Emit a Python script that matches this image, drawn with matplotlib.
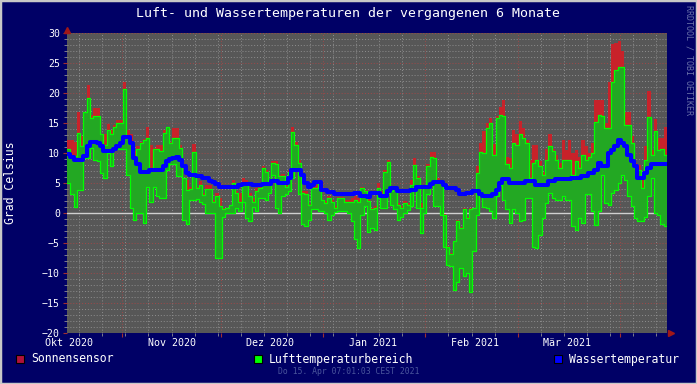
import numpy as np
import pandas as pd
import matplotlib
matplotlib.use('Agg')
import matplotlib.pyplot as plt
from matplotlib.patches import Rectangle

plt.rcParams['font.family'] = ['DejaVu Sans Mono', 'DejaVu Sans']

# daily values, 15. Okt 2020 .. 15. Apr 2021
tmax = [10.6, 9.5, 9.5, 13.3, 11.1, 16.8, 19.2, 15.8, 16.1, 16.1,
        13.1, 11.4, 13.9, 13.1, 14.4, 15.0, 15.0, 20.7, 12.5, 11.7,
        9.4, 10.6, 11.7, 12.2, 12.5, 7.5, 10.6, 10.6, 10.3, 13.3,
        14.3, 11.7, 12.5, 12.5, 10.8, 5.8, 3.9, 4.0, 10.2, 4.2,
        4.7, 3.0, 4.0, 4.0, 1.9, 2.8, 1.1, 0.6, 0.8, 1.4,
        5.0, 3.3, 1.9, 5.0, 4.7, 2.8, 1.9, 3.6, 4.2, 7.5,
        6.9, 5.3, 8.3, 8.1, 6.1, 6.1, 4.3, 6.9, 13.5, 11.3,
        8.3, 3.3, 3.1, 1.4, 4.2, 4.2, 5.3, 2.1, 1.7, 2.5,
        1.9, 0.9, 2.5, 2.5, 1.9, 1.9, 1.9, 2.2, 1.9, 4.2,
        3.6, 2.0, 0.6, 0.8, 4.2, 3.1, 6.9, 8.5, 3.6, 4.2,
        1.4, 0.8, 1.7, 1.4, 4.7, 8.0, 5.8, 0.8, 4.2, 7.8,
        9.4, 9.2, 5.3, 5.3, -0.3, -5.6, -6.8, -4.7, -1.4, -2.5,
        0.6, -0.8, 0.6, 0.8, 6.7, 10.2, 10.0, 14.2, 15.0, 9.7,
        15.8, 16.4, 16.1, 8.1, 7.5, 11.7, 11.4, 13.1, 12.5, 11.7,
        5.8, 8.3, 8.9, 7.8, 6.4, 8.9, 11.1, 10.3, 8.9, 7.5,
        8.9, 8.9, 8.9, 6.4, 8.6, 7.5, 9.7, 8.9, 9.4, 10.0,
        15.2, 16.4, 16.1, 14.2, 14.2, 21.9, 23.9, 24.4, 24.4, 14.7,
        14.7, 11.7, 7.8, 7.2, 4.2, 8.9, 16.0, 9.7, 13.6, 10.5,
        10.7, 9.7]
tmin = [5.0, 3.1, 1.0, 3.9, 3.9, 9.2, 9.2, 10.8, 8.9, 8.6,
        6.7, 5.8, 10.0, 7.8, 10.8, 10.6, 10.6, 10.6, 6.4, 0.8,
        -1.1, 0.0, 0.0, -1.7, 4.4, 1.9, 4.4, 2.8, 2.5, 2.5,
        7.2, 8.1, 8.1, 6.1, 6.1, -1.1, -1.9, 2.2, 2.2, 2.4,
        1.9, 1.5, 0.0, 0.0, 0.0, -7.5, -7.5, -0.6, 0.0, 0.0,
        0.0, 0.8, 0.3, 1.9, -0.8, -1.4, 1.0, 0.3, 2.5, 2.5,
        2.2, 3.3, 6.4, 0.8, 0.0, 2.8, 3.1, 3.6, 5.8, 7.5,
        3.1, -1.9, -2.2, -1.1, 0.6, 0.6, 0.3, 0.3, 0.0, -1.1,
        -0.3, 0.2, 0.3, 0.3, 0.3, 0.0, -1.4, -4.4, -5.8, -0.3,
        1.1, -3.1, -2.5, -2.8, 2.5, 0.8, 0.8, 3.3, 1.4, 0.6,
        -1.1, -0.6, 0.0, 0.5, 1.1, 4.4, 0.8, -3.3, 0.0, 3.1,
        5.0, 1.1, 1.1, -0.3, -5.7, -8.6, -8.9, -12.8, -11.5, -9.2,
        -10.5, -10.0, -13.1, -6.4, -0.3, 2.8, 1.0, 0.8, 0.3, -0.8,
        2.8, 4.7, 2.2, 0.6, -1.7, 0.6, 0.0, -1.4, -1.1, 2.5,
        2.5, -5.6, -5.8, -3.6, -0.8, 1.7, 3.3, 2.5, 2.2, 2.2,
        2.8, 2.2, 2.2, -2.2, -2.8, -0.8, -1.7, 3.1, 3.1, 0.3,
        -2.0, 0.3, 6.4, 1.7, 1.4, 3.3, 3.9, 5.0, 6.4, 5.5,
        2.8, 1.1, -0.8, -1.4, -1.4, -0.6, 2.8, 5.8, 0.0, -0.3,
        -1.9, -2.2]
sun = [12.2, 12.2, 11.8, 16.8, 12.8, 16.9, 21.3, 16.4, 17.5, 17.5,
       13.2, 13.2, 14.9, 13.9, 14.7, 15.5, 15.5, 21.9, 13.9, 13.2,
       10.3, 11.1, 11.9, 12.3, 14.3, 11.4, 10.8, 11.3, 11.3, 13.9,
       14.4, 11.9, 14.2, 14.2, 11.3, 5.8, 5.5, 4.4, 11.5, 4.3,
       5.3, 3.3, 4.7, 4.7, 2.2, 3.3, 2.5, 0.8, 0.8, 1.4,
       5.5, 3.6, 3.3, 5.8, 5.5, 3.3, 2.5, 4.2, 4.3, 7.9,
       7.2, 5.5, 8.7, 8.7, 6.4, 6.5, 4.7, 7.2, 14.4, 11.8,
       8.9, 3.6, 3.6, 1.5, 4.8, 4.7, 5.5, 2.2, 2.0, 2.8,
       2.1, 1.2, 2.6, 2.6, 2.1, 2.2, 2.5, 2.8, 2.5, 4.4,
       3.9, 2.8, 0.8, 1.1, 5.0, 3.6, 7.2, 8.9, 3.7, 4.4,
       1.7, 1.1, 2.0, 1.7, 5.5, 9.2, 6.1, 1.7, 4.7, 8.1,
       10.2, 10.2, 5.8, 5.5, -0.2, -5.5, -6.6, -4.7, -1.1, -2.4,
       0.8, -0.6, 0.8, 0.8, 7.9, 11.7, 13.6, 15.0, 15.9, 11.5,
       16.1, 17.6, 18.9, 9.4, 9.2, 13.9, 13.2, 15.3, 14.2, 12.2,
       8.9, 11.4, 11.4, 8.6, 6.9, 10.6, 13.2, 10.6, 9.7, 8.3,
       12.2, 10.5, 12.2, 10.0, 10.5, 9.4, 12.2, 11.1, 10.0, 11.7,
       18.9, 18.9, 18.9, 15.0, 21.9, 28.1, 28.3, 28.6, 27.0, 16.9,
       16.9, 12.8, 8.3, 8.0, 5.8, 11.1, 20.3, 10.5, 15.6, 12.5,
       12.5, 14.4]
water = [9.8, 9.4, 8.9, 8.9, 8.9, 9.5, 11.1, 11.9, 11.9, 11.7,
         11.1, 10.3, 10.3, 10.3, 10.6, 11.1, 11.7, 12.6, 12.6, 11.7,
         9.2, 8.1, 6.8, 6.8, 6.8, 7.1, 7.1, 7.2, 7.2, 7.8,
         8.6, 9.0, 9.2, 9.3, 8.9, 7.9, 6.7, 6.4, 6.4, 6.1,
         6.1, 5.8, 5.8, 5.4, 5.2, 4.9, 4.3, 4.3, 4.3, 4.3,
         4.4, 4.4, 4.6, 4.8, 4.8, 4.8, 4.7, 4.7, 4.7, 4.9,
         4.8, 4.8, 5.3, 5.3, 5.0, 5.0, 5.0, 5.8, 7.1, 7.1,
         7.1, 6.3, 5.0, 4.3, 4.7, 5.2, 5.2, 3.9, 3.9, 3.5,
         3.5, 3.2, 3.2, 3.2, 3.2, 3.2, 3.2, 3.4, 3.4, 2.8,
         2.8, 2.6, 3.3, 3.3, 3.3, 2.8, 2.8, 3.6, 4.1, 4.1,
         3.6, 3.6, 3.6, 3.6, 3.9, 3.9, 4.3, 4.3, 4.3, 4.3,
         4.8, 5.1, 5.1, 5.1, 4.7, 4.2, 4.2, 4.2, 3.8, 3.2,
         3.2, 3.4, 3.4, 3.6, 3.6, 3.1, 2.8, 2.8, 2.8, 3.1,
         3.9, 5.0, 5.6, 5.6, 5.0, 5.0, 5.0, 5.0, 5.0, 5.4,
         5.4, 5.4, 4.7, 4.7, 4.7, 4.7, 5.4, 5.4, 5.7, 5.7,
         5.7, 5.7, 5.7, 5.9, 5.9, 5.9, 6.2, 6.2, 6.7, 6.7,
         7.2, 8.3, 7.8, 7.8, 10.0, 10.5, 11.1, 12.1, 11.7, 11.1,
         9.7, 8.6, 7.8, 5.9, 5.9, 6.7, 7.5, 8.1, 8.1, 8.1,
         8.1, 8.2]

month_labels = ['Okt 2020', 'Nov 2020', 'Dez 2020', 'Jan 2021', 'Feb 2021', 'Mär 2021']
legend_labels = ['Sonnensensor', 'Lufttemperaturbereich', 'Wassertemperatur']

NAVY = '#000066'
FG = '#ffffff'

start = pd.Timestamp('2020-10-15 07:01')
edges = pd.date_range(start, periods=len(tmax) + 1, freq='D')


def ext(a):
    # repeat last value so the step covers the last day
    return np.append(np.asarray(a, dtype=float), a[-1])


fig = plt.figure(figsize=(6.97, 3.84), dpi=100, facecolor=NAVY)
ax = fig.add_axes([67 / 697, 51 / 384, 600 / 697, 300 / 384])
ax.set_facecolor('#575757')

# data
ax.axhline(0, color='#d0d0d0', lw=1.0, zorder=1.5)
ax.fill_between(edges, ext(tmax), ext(sun), step='post', color='#c8222a', lw=0, zorder=2)
ax.fill_between(edges, ext(tmin), ext(tmax), step='post', color='#23a823', lw=0, zorder=3)
ax.step(edges, ext(tmax), where='post', color='#00ff00', lw=0.9, zorder=4)
ax.step(edges, ext(tmin), where='post', color='#00ff00', lw=0.9, zorder=4)
ax.step(edges, ext(water), where='post', color='#0000ff', lw=2.9, zorder=5)

ax.set_xlim(edges[0], edges[-1])
ax.set_ylim(-20, 30)

# grid
month_starts = pd.date_range('2020-11-01', '2021-04-01', freq='MS')
weeks = pd.date_range('2020-10-19', edges[-1], freq='7D')
ax.set_xticks(month_starts)
ax.set_xticks(weeks, minor=True)
ax.set_yticks(np.arange(-20, 31, 5))
ax.set_yticks(np.arange(-20, 31, 1), minor=True)
ax.set_axisbelow(True)
ax.grid(which='minor', color='#8e8e8e', linestyle=(0, (1, 2)), lw=0.7)
ax.grid(which='major', color='#a04848', linestyle=(0, (1, 2)), lw=0.7)
ax.tick_params(axis='x', which='major', length=3, color='#a03030', labelbottom=False)
ax.tick_params(axis='x', which='minor', length=2, color='#909090')
ax.tick_params(axis='y', which='major', length=3, color='#a03030', labelcolor=FG,
               labelsize=7.1, pad=2)
ax.tick_params(axis='y', which='minor', length=2, color='#909090')
for lbl in ax.get_yticklabels():
    lbl.set_verticalalignment('center_baseline')
for s in ax.spines.values():
    s.set_visible(False)

# month labels centred mid-month
for i, lab in enumerate(month_labels):
    ms = pd.Timestamp('2020-10-01') + pd.DateOffset(months=i)
    ax.text(ms + pd.Timedelta(days=15), -0.017, lab, transform=ax.get_xaxis_transform(),
            ha='center', va='top', color=FG, fontsize=7.2)

# arrows
ax.plot([0], [1.01], marker='^', color='#a01818', ms=4, transform=ax.transAxes, clip_on=False)
ax.plot([1.006], [0], marker='>', color='#a01818', ms=4, transform=ax.transAxes, clip_on=False)

# texts
fig.text(348.5 / 697, 1 - 13 / 384, 'Luft- und Wassertemperaturen der vergangenen 6 Monate',
         ha='center', va='center', color=FG, fontsize=9.5)
fig.text(11 / 697, 1 - 183 / 384, 'Grad Celsius', rotation=90, ha='center', va='center',
         color=FG, fontsize=8.3)
fig.text(689 / 697, 1 - 5 / 384, 'RRDTOOL / TOBI OETIKER', rotation=270, ha='center', va='top',
         color='#6a72aa', fontsize=6)
fig.text(348.5 / 697, 1 - 372 / 384, 'Do 15. Apr 07:01:03 CEST 2021', ha='center', va='center',
         color='#4a559c', fontsize=5.9)

# legend
legend_colors = ['#b0123a', '#00ff00', '#0000ff']
legend_x = [16, 254, 554]
for lab, col, lx in zip(legend_labels, legend_colors, legend_x):
    fig.patches.append(Rectangle((lx / 697, 1 - 363 / 384), 8 / 697, 8 / 384,
                                 transform=fig.transFigure, facecolor=col,
                                 edgecolor='black', lw=0.8))
    fig.text((lx + 15) / 697, 1 - 359 / 384, lab, ha='left', va='center',
             color=FG, fontsize=8.3)

# outer frame
fig.patches.append(Rectangle((0, 0), 1, 1, transform=fig.transFigure, fill=False,
                             edgecolor='#c8c8c8', lw=2.5))

fig.savefig('out.png', dpi=100, facecolor=NAVY)
